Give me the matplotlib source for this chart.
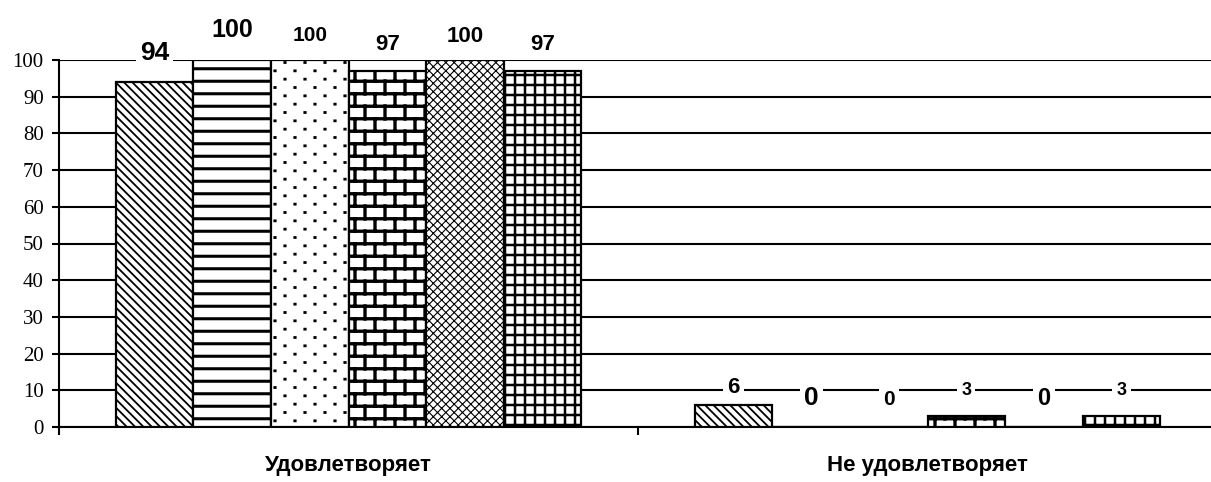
import warnings
import numpy as np
import matplotlib
matplotlib.use("Agg")
import matplotlib.pyplot as plt
import matplotlib.hatch as mhatch
from matplotlib.path import Path

warnings.filterwarnings("ignore")

# data
categories = ["Удовлетворяет", "Не удовлетворяет"]
series_1 = [94, 6]
series_2 = [100, 0]
series_3 = [100, 0]
series_4 = [97, 3]
series_5 = [100, 0]
series_6 = [97, 3]
yticks = list(range(0, 101, 10))

# style: hatches, label baseline offsets (px above bar top), label font sizes
hatches = ["\\\\\\\\", "h", "d", "b", "xxxx", "g"]
hatch_lw = [1.3, 2.2, 2.0, 2.4, 0.8, 1.8]
label_off = [[22, 12], [23, 22], [19, 22], [21, 21], [18, 22], [21, 21]]
label_fs = [[19, 16], [18, 19], [15, 15], [16, 13], [16, 17], [16, 13]]

BOLD = ["Liberation Sans Narrow", "Liberation Sans", "DejaVu Sans"]


class SegHatch(mhatch.HatchPatternBase):
    """custom hatch built from line segments in the unit cell"""
    char = None

    def __init__(self, hatch, density):
        self.segs = self.segments() if (self.char and self.char in hatch) else []
        self.num_vertices = 2 * len(self.segs)

    def segments(self):
        return []

    def set_vertices_and_codes(self, vertices, codes):
        for i, (p0, p1) in enumerate(self.segs):
            vertices[2 * i] = p0
            vertices[2 * i + 1] = p1
            codes[2 * i] = Path.MOVETO
            codes[2 * i + 1] = Path.LINETO


class BrickHatch(SegHatch):
    char = "b"

    def segments(self):
        rows, cols = 8, 5
        out = []
        for i in range(rows):
            y0 = (i + 0.5) / rows
            y1 = (i + 1.5) / rows
            out.append(((0, y0), (1, y0)))
            for j in range(cols):
                xx = (j + 0.5 * (i % 2) + 0.25) / cols
                out.append(((xx, y0), (xx, min(y1, 1.0))))
                if y1 > 1.0:
                    out.append(((xx, 0), (xx, y1 - 1.0)))
        return out


class HorizHatch(SegHatch):
    char = "h"

    def segments(self):
        n = 8
        return [((0, (i + 0.5) / n), (1, (i + 0.5) / n)) for i in range(n)]


class GridHatch(SegHatch):
    char = "g"

    def segments(self):
        n = 10
        out = [((0, (i + 0.5) / n), (1, (i + 0.5) / n)) for i in range(n)]
        out += [(((i + 0.5) / n, 0), ((i + 0.5) / n, 1)) for i in range(n)]
        return out


class DotHatch(SegHatch):
    char = "d"

    def segments(self):
        rows, cols = 12, 5
        out = []
        for i in range(rows):
            yy = (i + 0.5) / rows
            for j in range(cols):
                xx = (j + 0.5 * (i % 2) + 0.25) / cols
                out.append(((xx - 0.002, yy), (xx + 0.002, yy)))
        return out


mhatch._hatch_types.extend([BrickHatch, HorizHatch, GridHatch, DotHatch])

all_series = [series_1, series_2, series_3, series_4, series_5, series_6]

W, H = 1211, 482
fig = plt.figure(figsize=(W / 100, H / 100), dpi=100)
ax = fig.add_axes([59 / W, (H - 427) / H, (1217 - 59) / W, (427 - 60) / H])

x = np.arange(len(categories))
n = len(all_series)
bw = 0.134
for k, vals in enumerate(all_series):
    pos = x + (k - (n - 1) / 2) * bw
    with plt.rc_context({"hatch.linewidth": hatch_lw[k]}):
        bars = ax.bar(pos, vals, width=bw, color="white", edgecolor="black",
                      linewidth=1.6, hatch=hatches[k], zorder=3)
    for b in bars:
        if hasattr(b, "set_hatch_linewidth"):
            b.set_hatch_linewidth(hatch_lw[k])
    for j, (px, v) in enumerate(zip(pos, vals)):
        ax.annotate(str(v), (px, v), xytext=(0, label_off[k][j] * 0.72),
                    textcoords="offset points", ha="center", va="baseline",
                    fontsize=label_fs[k][j], fontweight="bold", family=BOLD,
                    annotation_clip=False, zorder=5,
                    bbox=dict(fc="white", ec="none", pad=3))

ax.set_xlim(-0.5, 1.5)
ax.set_ylim(0, 100)
ax.set_yticks(yticks)
ax.set_yticklabels([str(t) for t in yticks], family="Liberation Serif", fontsize=15)
ax.yaxis.grid(True, color="black", linewidth=1.5)
ax.set_axisbelow(True)
ax.tick_params(axis="y", direction="out", length=5, width=1.5, pad=6)

ax.set_xticks([-0.5, 0.5, 1.5])
ax.set_xticklabels([])
ax.tick_params(axis="x", direction="out", length=6, width=1.5)
ax.set_xticks(x, minor=True)
ax.set_xticklabels(categories, minor=True, fontsize=16, fontweight="bold", family=BOLD)
ax.tick_params(axis="x", which="minor", length=0, pad=20)

for s in ["top", "right"]:
    ax.spines[s].set_visible(False)
ax.spines["left"].set_linewidth(1.5)
ax.spines["bottom"].set_linewidth(1.5)

fig.savefig("out.png", dpi=100)
